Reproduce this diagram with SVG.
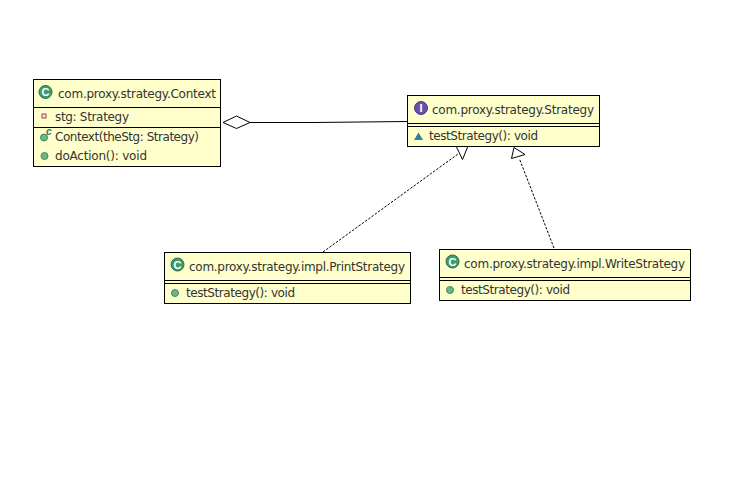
<svg xmlns="http://www.w3.org/2000/svg" width="741" height="494" viewBox="0 0 741 494">
<style>
.box{fill:#ffffcc;stroke:#000;stroke-width:1}
.sep{stroke:#000;stroke-width:1;fill:none}
.t{font-family:"DejaVu Sans","Noto Sans",sans-serif;font-size:12px;fill:#333}
.dash{stroke:#000;stroke-width:1;stroke-dasharray:2.500 1.500;fill:none}
.head{fill:#fff;stroke:#000;stroke-width:1}
.cl{fill:#3f9a6c;stroke:#2a6f4c;stroke-width:1}
.cg{font-family:"Liberation Sans",sans-serif;font-size:11px;font-weight:bold;fill:#fff;text-anchor:middle}
.pub{fill:#6fb58a;stroke:#3f8a5e;stroke-width:1}
</style>
<rect width="741" height="494" fill="#fff"/>
<g id="connectors">
<path d="M250 122.500H314L407 121.500" fill="none" stroke="#000"/>
<polygon class="head" points="223,122.500 236.500,116 250,122.500 236.500,128.500"/>
<path class="dash" d="M323 252L458 154"/>
<polygon class="head" points="456,146 468,146 462.500,159.500"/>
<path class="dash" d="M554 248L519.500 159"/>
<polygon class="head" points="514,147.500 525,154.500 511.500,158.500"/>
</g>
<g id="context">
<rect class="box" x="33.500" y="79.500" width="187" height="87"/>
<path class="sep" d="M33.500 107.500H220.500M33.500 127.500H220.500"/>
<circle class="cl" cx="45.500" cy="92" r="6.500"/><text class="cg" x="45.500" y="96">C</text>
<text class="t" x="58" y="98" textLength="158">com.proxy.strategy.Context</text>
<rect x="42" y="114" width="4" height="4" fill="#f4e4e4" stroke="#b03a3a"/>
<text class="t" x="55" y="121" textLength="74">stg: Strategy</text>
<circle class="pub" cx="44" cy="137.500" r="3.500"/>
<text x="46" y="135" font-family="Liberation Sans,sans-serif" font-size="10" font-weight="bold" font-style="italic" fill="#2a7a4c">c</text>
<text class="t" x="55" y="141" textLength="144">Context(theStg: Strategy)</text>
<circle class="pub" cx="44.500" cy="156" r="3.500"/>
<text class="t" x="55" y="160" textLength="92">doAction(): void</text>
</g>
<g id="strategy">
<rect class="box" x="407.500" y="95.500" width="192" height="51"/>
<path class="sep" d="M407.500 123.500H599.500M407.500 126.500H599.500"/>
<circle cx="421" cy="108" r="6.500" fill="#6a4fa8" stroke="#4d3788"/><text class="cg" x="421" y="112">I</text>
<text class="t" x="432" y="114" textLength="162">com.proxy.strategy.Strategy</text>
<polygon points="414,140 423,140 418.500,132.500" fill="#2f7f9f"/>
<text class="t" x="429" y="140" textLength="109">testStrategy(): void</text>
</g>
<g id="print-strategy">
<rect class="box" x="164.500" y="252.500" width="246" height="51"/>
<path class="sep" d="M164.500 280.500H410.500M164.500 283.500H410.500"/>
<circle class="cl" cx="177.500" cy="264.500" r="6.500"/><text class="cg" x="177.500" y="268.500">C</text>
<text class="t" x="189" y="271" textLength="216">com.proxy.strategy.impl.PrintStrategy</text>
<circle class="pub" cx="175" cy="293" r="3.500"/>
<text class="t" x="186" y="297" textLength="109">testStrategy(): void</text>
</g>
<g id="write-strategy">
<rect class="box" x="439.500" y="249.500" width="251" height="51"/>
<path class="sep" d="M439.500 277.500H690.500M439.500 280.500H690.500"/>
<circle class="cl" cx="452.500" cy="261.500" r="6.500"/><text class="cg" x="452.500" y="265.500">C</text>
<text class="t" x="464" y="268" textLength="221">com.proxy.strategy.impl.WriteStrategy</text>
<circle class="pub" cx="450" cy="290" r="3.500"/>
<text class="t" x="461" y="294" textLength="109">testStrategy(): void</text>
</g>
</svg>
